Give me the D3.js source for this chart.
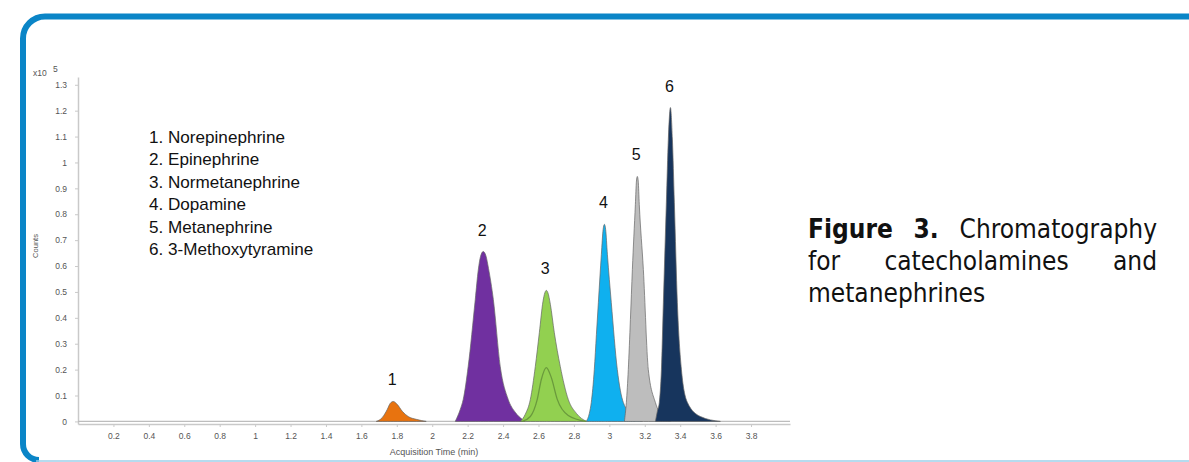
<!DOCTYPE html>
<html>
<head>
<meta charset="utf-8">
<script src="https://cdn.jsdelivr.net/npm/d3@7"></script>
<style>
  html, body { margin: 0; padding: 0; background: #ffffff; }
  svg { display: block; }
</style>
</head>
<body>
<svg id="chart" width="1189" height="462"></svg>
<script>
// ---- data -------------------------------------------------------------
const compounds = ["Norepinephrine", "Epinephrine", "Normetanephrine",
                   "Dopamine", "Metanephrine", "3-Methoxytyramine"];
const peakLabels = ["1", "2", "3", "4", "5", "6"];
const timeTicks = [0.2, 0.4, 0.6, 0.8, 1, 1.2, 1.4, 1.6, 1.8, 2,
                   2.2, 2.4, 2.6, 2.8, 3, 3.2, 3.4, 3.6, 3.8];
const countTicks = [0, 0.1, 0.2, 0.3, 0.4, 0.5, 0.6, 0.7, 0.8, 0.9,
                    1, 1.1, 1.2, 1.3];

// [acquisition time (min), counts (x10^5)]
const norepinephrine = [[1.684, 0], [1.718, 0.015], [1.746, 0.046], [1.763, 0.07],
  [1.780, 0.077], [1.802, 0.066], [1.831, 0.039], [1.864, 0.019], [1.910, 0.008], [1.966, 0]];
const epinephrine = [[2.130, 0], [2.158, 0.046], [2.175, 0.085], [2.203, 0.212],
  [2.243, 0.471], [2.260, 0.585], [2.273, 0.638], [2.288, 0.656], [2.303, 0.640],
  [2.318, 0.590], [2.345, 0.471], [2.384, 0.212], [2.429, 0.085], [2.469, 0.035],
  [2.508, 0.008], [2.525, 0]];
const normetanephrine = [[2.497, 0], [2.525, 0.027], [2.554, 0.085], [2.582, 0.212],
  [2.605, 0.344], [2.625, 0.462], [2.636, 0.497], [2.644, 0.506], [2.653, 0.497],
  [2.667, 0.452], [2.689, 0.344], [2.723, 0.212], [2.768, 0.085], [2.814, 0.031], [2.870, 0]];
const normetanephrineInner = [[2.508, 0], [2.554, 0.019], [2.593, 0.085], [2.616, 0.162],
  [2.644, 0.208], [2.672, 0.17], [2.706, 0.085], [2.768, 0.023], [2.870, 0]];
const dopamine = [[2.870, 0], [2.887, 0.031], [2.898, 0.073], [2.915, 0.2],
  [2.927, 0.336], [2.938, 0.459], [2.955, 0.645], [2.965, 0.742], [2.972, 0.761],
  [2.979, 0.742], [2.989, 0.645], [3.011, 0.459], [3.045, 0.2], [3.079, 0.073],
  [3.136, 0.019], [3.186, 0]];
const metanephrine = [[3.085, 0], [3.096, 0.073], [3.107, 0.2], [3.119, 0.394],
  [3.130, 0.587], [3.147, 0.838], [3.153, 0.928], [3.158, 0.946], [3.163, 0.928],
  [3.169, 0.838], [3.192, 0.587], [3.220, 0.2], [3.260, 0.073], [3.299, 0.019], [3.345, 0]];
const methoxytyramine = [[3.260, 0], [3.271, 0.039], [3.282, 0.073], [3.294, 0.2],
  [3.305, 0.459], [3.322, 0.846], [3.333, 1.09], [3.345, 1.212], [3.356, 1.09],
  [3.367, 0.846], [3.384, 0.459], [3.407, 0.2], [3.441, 0.073], [3.514, 0.019], [3.627, 0]];
const baselineTrace = [[0, 0], [4.02, 0]];

const captionLines = [
  [{ text: "Figure", bold: true }, { text: "3.", bold: true }, { text: "Chromatography" }],
  [{ text: "for" }, { text: "catecholamines" }, { text: "and" }],
  [{ text: "metanephrines" }]
];

// ---- styles -----------------------------------------------------------
const peakColors = ["#e8730f", "#7030a0", "#92d050", "#0fb0ef", "#bdbdbd", "#17355d"];
const frameBlue = "#0a85c7";

// ---- layout -----------------------------------------------------------
const svg = d3.select("#chart");
const x = d3.scaleLinear().domain([0, 4.02]).range([78, 790]);
const y = d3.scaleLinear().domain([-0.01, 1.33]).range([424, 77]);

// frame
svg.append("path")
  .attr("d", "M1189,16.5 H45 A22,22 0 0 0 23,38.5 V444 A16,16 0 0 0 39,460")
  .attr("fill", "none").attr("stroke", frameBlue).attr("stroke-width", 6);
svg.append("line")
  .attr("x1", 36).attr("x2", 1189).attr("y1", 461).attr("y2", 461)
  .attr("stroke", "#9ccfea").attr("stroke-width", 1.5);

// axes
const fmt = d3.format("~g");
const yAxis = svg.append("g").attr("transform", `translate(${x(0)},0)`)
  .call(d3.axisLeft(y).tickValues(countTicks).tickFormat(fmt)
    .tickSize(3).tickSizeOuter(0).tickPadding(8));
const xAxis = svg.append("g").attr("transform", `translate(0,${y.range()[0]})`)
  .call(d3.axisBottom(x).tickValues(timeTicks).tickFormat(fmt)
    .tickSize(3).tickSizeOuter(0).tickPadding(6));
[yAxis, xAxis].forEach(a => {
  a.select(".domain").attr("stroke", "#c9c9c9").attr("stroke-width", 1.5);
  a.selectAll(".tick line").attr("stroke", "#c9c9c9");
  a.selectAll(".tick text").attr("fill", "#555").attr("font-size", 8.5)
    .attr("font-family", "Liberation Sans, Arial, sans-serif");
});

// axis titles
svg.append("text").attr("x", 33).attr("y", 76)
  .attr("font-family", "Liberation Sans, Arial, sans-serif").attr("font-size", 8.5).attr("fill", "#555")
  .text("x10");
svg.append("text").attr("x", 53).attr("y", 72)
  .attr("font-family", "Liberation Sans, Arial, sans-serif").attr("font-size", 8.5).attr("fill", "#555")
  .text("5");
svg.append("text").attr("transform", "translate(38,246) rotate(-90)")
  .attr("text-anchor", "middle")
  .attr("font-family", "Liberation Sans, Arial, sans-serif").attr("font-size", 7.5).attr("fill", "#555")
  .text("Counts");
svg.append("text").attr("x", (x.range()[0] + x.range()[1]) / 2).attr("y", 455)
  .attr("text-anchor", "middle")
  .attr("font-family", "Liberation Sans, Arial, sans-serif").attr("font-size", 9).attr("fill", "#555")
  .text("Acquisition Time (min)");

// baseline trace
const line = d3.line().x(d => x(d[0])).y(d => y(d[1]));
svg.append("path").datum(baselineTrace).attr("d", line)
  .attr("fill", "none").attr("stroke", "#bdbdbd").attr("stroke-width", 1.2);

// peaks
const peaks = [norepinephrine, epinephrine, normetanephrine, dopamine, metanephrine, methoxytyramine];
const area = d3.area().x(d => x(d[0])).y0(y(0)).y1(d => y(d[1])).curve(d3.curveMonotoneX);
peaks.forEach((p, i) => {
  svg.append("path").datum(p).attr("d", area)
    .attr("fill", peakColors[i]).attr("stroke", "#666").attr("stroke-width", 0.7);
  if (i === 2) {
    svg.append("path").datum(normetanephrineInner)
      .attr("d", d3.line().x(d => x(d[0])).y(d => y(d[1])).curve(d3.curveMonotoneX))
      .attr("fill", "none").attr("stroke", "#6a9a3c").attr("stroke-width", 1.3);
  }
  const apex = d3.greatest(p, d => d[1]);
  svg.append("text")
    .attr("x", x(apex[0]) - 1).attr("y", y(apex[1]) - 16)
    .attr("text-anchor", "middle")
    .attr("font-family", "Liberation Sans, Arial, sans-serif").attr("font-size", 16).attr("fill", "#111")
    .text(peakLabels[i]);
});

// legend
compounds.forEach((c, i) => {
  svg.append("text")
    .attr("transform", `translate(149,${143 + i * 22.4}) scale(1.07,1)`)
    .attr("font-family", "Liberation Sans, Arial, sans-serif").attr("font-size", 16).attr("fill", "#111")
    .text(`${i + 1}. ${c}`);
});

// caption, justified between left and right edges
const capLeft = 808, capRight = 1157;
const cap = svg.append("g")
  .attr("font-family", "'DejaVu Sans Condensed', 'Liberation Sans Narrow', sans-serif")
  .attr("font-size", 26).attr("fill", "#111");
captionLines.forEach((words, li) => {
  const yb = 238 + li * 32;
  const nodes = words.map(w => cap.append("text").attr("y", yb)
    .attr("font-weight", w.bold ? "bold" : "normal").text(w.text));
  const widths = nodes.map(n => n.node().getComputedTextLength());
  const last = li === captionLines.length - 1;
  const gap = last || words.length < 2 ? 7 : (capRight - capLeft - d3.sum(widths)) / (words.length - 1);
  let cx = capLeft;
  nodes.forEach((n, k) => { n.attr("x", cx); cx += widths[k] + gap; });
});
</script>
</body>
</html>
